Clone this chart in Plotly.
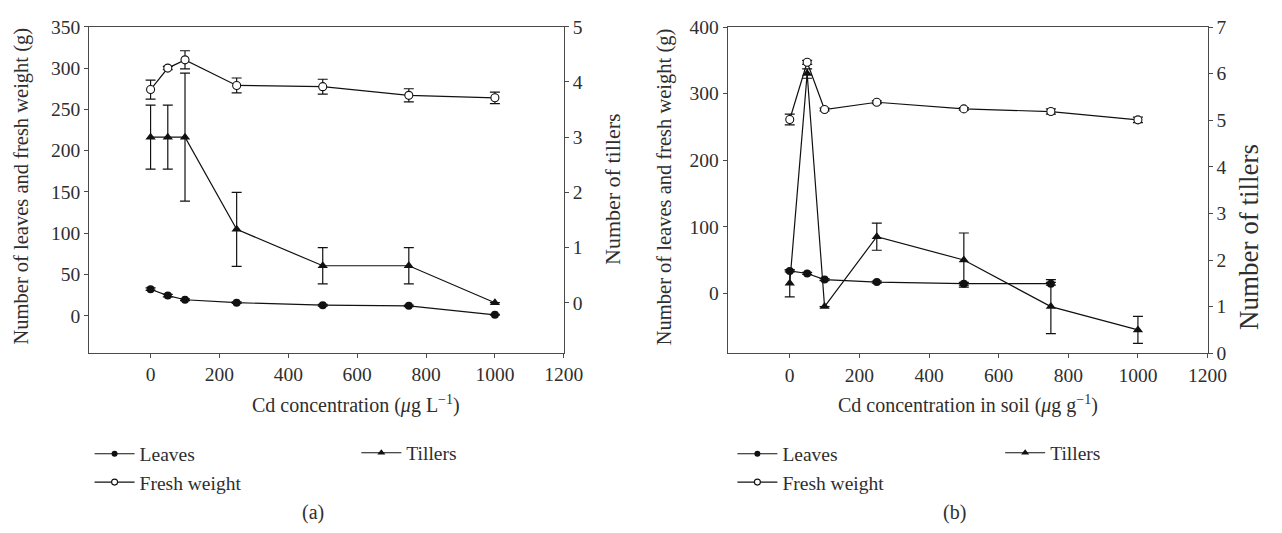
import plotly.graph_objects as go

W, H = 1282, 533


def px(x):
    return x / W


def py(y):
    return 1 - y / H


# ---------------- data ----------------
conc = [0, 50, 100, 250, 500, 750, 1000]

# panel (a): hydroponic
leaves_a = [32.2, 24.5, 19.4, 15.9, 12.8, 12.0, 1.2]
leaves_a_err = [1.5, 1.5, 1.0, 1.0, 1.0, 1.0, 0.5]
fresh_a = [274, 300, 310, 279, 277.5, 267, 264]
fresh_a_err = [11.5, 2, 11, 9, 9, 8, 7]
tillers_a = [3, 3, 3, 1.33, 0.67, 0.67, 0]
tillers_a_err = [0.58, 0.58, 1.16, 0.67, 0.33, 0.33, 0]

# panel (b): soil
leaves_b = [33.6, 29.8, 20.6, 16.9, 14.4, 14.4, None]
leaves_b_err = [1.5, 1.5, 1.5, 1.5, 2, 2, 0]
fresh_b = [261, 347, 276, 287, 277, 273, 260.5]
fresh_b_err = [8, 3, 2, 2, 2, 4, 4]
tillers_b = [1.5, 6, 1, 2.5, 2, 1, 0.5]
tillers_b_err = [0.29, 0.1, 0, 0.29, 0.58, 0.58, 0.29]

x_ticks = [0, 200, 400, 600, 800, 1000, 1200]
ya_ticks = [0, 50, 100, 150, 200, 250, 300, 350]
ya2_ticks = [0, 1, 2, 3, 4, 5]
yb_ticks = [0, 100, 200, 300, 400]
yb2_ticks = [0, 1, 2, 3, 4, 5, 6, 7]

series_names = ["Leaves", "Fresh weight", "Tillers"]

FONT = "Liberation Serif, Times New Roman, serif"
TXT = "#2e2e2e"
AX = "#4a4a4a"
INK = "#111111"

fig = go.Figure()


def err(arr):
    return dict(type="data", array=arr, color=INK, thickness=1.2, width=5, visible=True)


def marker_style(kind, size):
    if kind == 0:
        return dict(symbol="circle", size=size, color=INK)
    if kind == 1:
        return dict(symbol="circle", size=size, color="white", line=dict(color=INK, width=1.1))
    return dict(symbol="triangle-up", size=size + 1, color=INK)


def add_panel(xa, ya, ya2, leaves, leaves_err, fresh, fresh_err, tillers, tillers_err, lg_a, lg_b):
    ys = [leaves, fresh, tillers]
    es = [leaves_err, fresh_err, tillers_err]
    axes = [ya, ya, ya2]
    for k in range(3):
        fig.add_trace(go.Scatter(
            x=conc, y=ys[k], name=series_names[k], mode="lines+markers", xaxis=xa, yaxis=axes[k],
            line=dict(color=INK, width=1.2), marker=marker_style(k, 8),
            error_y=err(es[k]), showlegend=False, connectgaps=False))
    # legend entries (smaller symbols, as in the reference key)
    lgs = [lg_a, lg_a, lg_b]
    for k in range(3):
        fig.add_trace(go.Scatter(
            x=[None], y=[None], name=series_names[k], mode="lines+markers", xaxis=xa, yaxis=axes[k],
            line=dict(color=INK, width=1.1), marker=marker_style(k, 6),
            legend=lgs[k], showlegend=True))


add_panel("x", "y", "y2", leaves_a, leaves_a_err, fresh_a, fresh_a_err,
          tillers_a, tillers_a_err, "legend", "legend2")
add_panel("x2", "y3", "y4", leaves_b, leaves_b_err, fresh_b, fresh_b_err,
          tillers_b, tillers_b_err, "legend3", "legend4")

tickfont = dict(family=FONT, size=19.5, color=TXT)
common_axis = dict(showgrid=False, zeroline=False, showline=True, linecolor=AX, linewidth=1.2,
                   ticks="outside", ticklen=4, tickwidth=1.2, tickcolor=AX, tickfont=tickfont)

top_a, bot_a = 17.5, 357.0
top_b, bot_b = 17.7, 357.3

legend_common = dict(font=dict(family=FONT, size=19.5, color=TXT), bgcolor="rgba(0,0,0,0)",
                     orientation="v", xanchor="left", yanchor="top", itemwidth=40,
                     tracegroupgap=0, itemclick=False)

fig.update_layout(
    width=W, height=H,
    margin=dict(l=0, r=0, t=0, b=0),
    paper_bgcolor="white", plot_bgcolor="white",
    font=dict(family=FONT, color=TXT),
    showlegend=True,
    xaxis=dict(domain=[px(90.7), px(572.7)], anchor="y", range=[-178, 1200], tickvals=x_ticks,
               mirror=True, **common_axis),
    yaxis=dict(domain=[py(bot_a), py(top_a)], anchor="x", range=[-45, 350], tickvals=ya_ticks,
               **common_axis),
    yaxis2=dict(overlaying="y", side="right", anchor="x", range=[-0.91, 5], tickvals=ya2_ticks,
                **common_axis),
    xaxis2=dict(domain=[px(739.3), px(1226.7)], anchor="y3", range=[-178, 1200], tickvals=x_ticks,
                mirror=True, **common_axis),
    yaxis3=dict(domain=[py(bot_b), py(top_b)], anchor="x2", range=[-90, 400], tickvals=yb_ticks,
                **common_axis),
    yaxis4=dict(overlaying="y3", side="right", anchor="x2", range=[0, 7], tickvals=yb2_ticks,
                **common_axis),
    legend=dict(x=px(91), y=py(442), **legend_common),
    legend2=dict(x=px(362), y=py(441), **legend_common),
    legend3=dict(x=px(744), y=py(442), **legend_common),
    legend4=dict(x=px(1016), y=py(441), **legend_common),
)


def note(text, x, y, size, angle=0):
    fig.add_annotation(text=text, x=px(x), y=py(y), xref="paper", yref="paper",
                       xanchor="center", yanchor="middle", showarrow=False, textangle=angle,
                       font=dict(family=FONT, size=size, color=TXT))


note("Cd concentration (<i>μ</i>g L<sup>−1</sup>)", 362, 411, 20)
note("Cd concentration in soil (<i>μ</i>g g<sup>−1</sup>)", 983, 411, 20)
note("Number of leaves and fresh weight (g)", 22, 183, 20.5, -90)
note("Number of tillers", 622, 186, 22, -90)
note("Number of leaves and fresh weight (g)", 675, 184, 20.5, -90)
note("Number of tillers", 1268, 236, 27, -90)
note("(a)", 318, 523, 20)
note("(b)", 970, 523, 20)

fig.write_html("out.html")
